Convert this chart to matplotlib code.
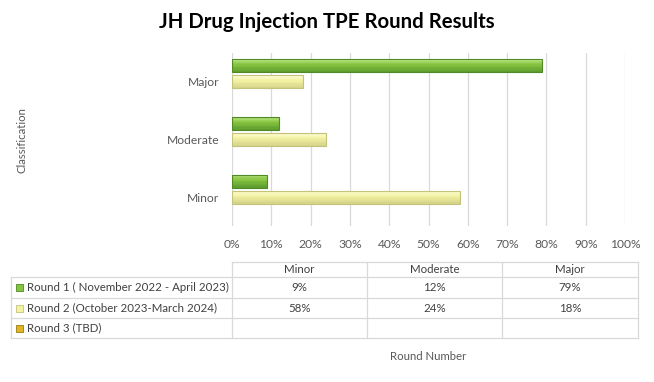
import matplotlib
matplotlib.use("Agg")
import matplotlib.pyplot as plt
from matplotlib.lines import Line2D
from matplotlib.patches import Rectangle
from matplotlib.colors import to_rgb
import numpy as np

plt.rcParams['font.family'] = ['Lato', 'DejaVu Sans']

# data
categories = ["Minor", "Moderate", "Major"]
series_names = ["Round 1 ( November 2022 - April 2023)",
                "Round 2 (October 2023-March 2024)",
                "Round 3 (TBD)"]
round1 = [9, 12, 79]
round2 = [58, 24, 18]
round3 = [None, None, None]
xticks = [0, 10, 20, 30, 40, 50, 60, 70, 80, 90, 100]

face = ["#86c440", "#f2f2a2", "#e0b526"]
light = ["#b4e07a", "#fbfbd0", "#f0d060"]
dark = ["#5f9e2e", "#d6d48a", "#b08a18"]
edge = ["#4f8a25", "#c4c27a", "#9c7a10"]

W, H = 654, 382
fig = plt.figure(figsize=(W / 100, H / 100), dpi=100)

def fx(px):
    return px / W

def fy(py):
    return 1 - py / H

ax = fig.add_axes([fx(232), fy(226), fx(625) - fx(232), fy(53) - fy(226)])

y = np.arange(len(categories))
off = 0.278
h = 0.226
nstripe = 10
for i, vals in enumerate([round1, round2, round3]):
    if all(x is None for x in vals):
        continue
    v = [0 if x is None else x for x in vals]
    yc = y + off * (1 - i)
    c0, c1, c2 = np.array(to_rgb(light[i])), np.array(to_rgb(face[i])), np.array(to_rgb(dark[i]))
    for k in range(nstripe):
        t = k / (nstripe - 1)
        col = c0 + (c1 - c0) * (t / 0.4) if t < 0.4 else c1 + (c2 - c1) * ((t - 0.4) / 0.6)
        ys = yc + h / 2 - (k + 0.5) * h / nstripe
        ax.barh(ys, v, height=h / nstripe * 1.05, color=col, linewidth=0, zorder=3)
    ax.barh(yc, v, height=h, facecolor="none", edgecolor=edge[i],
            linewidth=0.8, zorder=4)

ax.set_xlim(0, 100)
ax.set_ylim(-0.5, 2.5)
ax.set_xticks(xticks)
ax.set_xticklabels([f"{t}%" for t in xticks], fontsize=8.7, color="#595959")
ax.set_yticks(y)
ax.set_yticklabels(categories, fontsize=8.7, color="#595959")
ax.tick_params(length=0, pad=9)
ax.grid(axis="x", color="#d9d9d9", linewidth=0.9, zorder=0)
for s in ax.spines.values():
    s.set_visible(False)

fig.text(0.5, fy(22), "JH Drug Injection TPE Round Results", ha="center",
         va="center", fontsize=14.7, fontweight="bold", color="#000000")
fig.text(fx(22), fy(140), "Classification", rotation=90, ha="center",
         va="center", fontsize=8.2, color="#595959")
fig.text(fx(428), fy(356), "Round Number", ha="center", va="center",
         fontsize=8.2, color="#595959")

# data table below the chart
lc = "#d9d9d9"
cols = [232, 367, 502, 638]
rows = [262, 277, 298, 318, 338]
fig.add_artist(Line2D([fx(cols[0]), fx(cols[-1])], [fy(rows[0])] * 2, color=lc, lw=0.9))
for r in rows[1:]:
    fig.add_artist(Line2D([fx(11), fx(cols[-1])], [fy(r)] * 2, color=lc, lw=0.9))
fig.add_artist(Line2D([fx(11)] * 2, [fy(rows[1]), fy(rows[-1])], color=lc, lw=0.9))
for c in cols:
    fig.add_artist(Line2D([fx(c)] * 2, [fy(rows[0]), fy(rows[-1])], color=lc, lw=0.9))

tc = "#404040"
for j, cat in enumerate(categories):
    cx = (cols[j] + cols[j + 1]) / 2
    fig.text(fx(cx), fy((rows[0] + rows[1]) / 2), cat, ha="center", va="center",
             fontsize=8.3, color=tc)
for i, (name, vals) in enumerate(zip(series_names, [round1, round2, round3])):
    cy = (rows[i + 1] + rows[i + 2]) / 2
    fig.add_artist(Rectangle((fx(16), fy(cy + 3.5)), fx(7), fy(0) - fy(7),
                             facecolor=face[i], edgecolor=edge[i], lw=0.6))
    fig.text(fx(27), fy(cy), name, ha="left", va="center", fontsize=8.3, color=tc)
    for j, v in enumerate(vals):
        if v is None:
            continue
        cx = (cols[j] + cols[j + 1]) / 2
        fig.text(fx(cx), fy(cy), f"{v}%", ha="center", va="center",
                 fontsize=8.3, color=tc)

fig.savefig("out.png", dpi=100, facecolor="white")
